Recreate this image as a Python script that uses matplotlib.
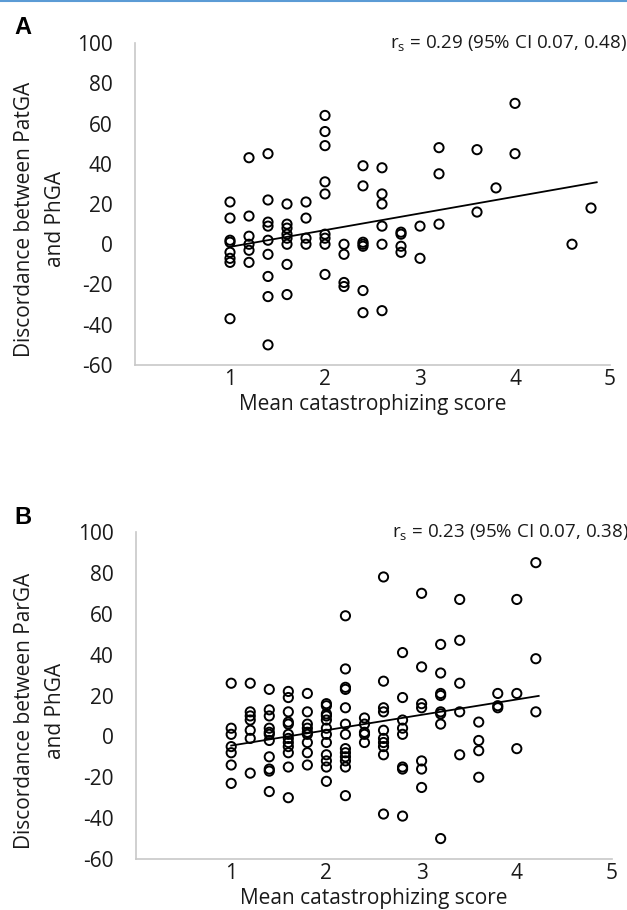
import matplotlib
matplotlib.use("Agg")
import matplotlib.pyplot as plt
from matplotlib.lines import Line2D
import numpy as np

plt.rcParams['font.family'] = ['Open Sans', 'DejaVu Sans']
plt.rcParams['mathtext.fontset'] = 'custom'
plt.rcParams['mathtext.rm'] = 'Open Sans'
plt.rcParams['mathtext.it'] = 'Open Sans'

# ---------------- Panel A data ----------------
a_x_levels = [1.0, 1.2, 1.4, 1.6, 1.8, 2.0, 2.2, 2.4, 2.6, 2.8, 3.0, 3.2, 3.6, 3.8, 4.0, 4.6, 4.8]
a_y_groups = [
    [21, 13, 2, 1, -4, -7, -9, -37],
    [43, 14, 4, 0, -3, -9],
    [45, 22, 11, 9, 2, -5, -16, -26, -50],
    [20, 10, 8, 5, 3, 0, -10, -25],
    [21, 13, 3, 0],
    [64, 56, 49, 31, 25, 5, 3, 0, -15],
    [0, -5, -19, -21],
    [39, 29, 1, 0, -1, -23, -34],
    [38, 25, 20, 9, 0, -33],
    [6, 5, -1, -4],
    [9, -7],
    [48, 35, 10],
    [47, 16],
    [28],
    [70, 45],
    [0],
    [18],
]
a_trend_x = [1.0, 4.86]
a_trend_y = [-1.3, 30.8]
a_label = "Discordance between PatGA\nand PhGA"
a_stat = "r$_\\mathrm{s}$ = 0.29 (95% CI 0.07, 0.48)"

# ---------------- Panel B data ----------------
b_x_levels = [1.0, 1.2, 1.4, 1.6, 1.8, 2.0, 2.2, 2.4, 2.6, 2.8, 3.0, 3.2, 3.4, 3.6, 3.8, 4.0, 4.2]
b_y_groups = [
    [26, 4, 1, -5, -8, -14, -23],
    [26, 12, 10, 8, 3, -1, -18],
    [23, 13, 10, 4, 2, 1, -2, -10, -16, -17, -27],
    [22, 19, 12, 7, 6, 1, -1, -3, -5, -8, -15, -30],
    [21, 12, 6, 4, 2, 1, -3, -8, -14],
    [16, 15, 11, 10, 8, 4, 1, -3, -9, -12, -15, -22],
    [59, 33, 24, 23, 14, 6, 1, -6, -8, -10, -12, -15, -29],
    [9, 6, 2, 1, -3],
    [78, 27, 14, 12, 3, -1, -3, -5, -9, -38],
    [41, 19, 8, 4, 1, -15, -16, -39],
    [70, 34, 16, 14, -12, -16, -25],
    [45, 31, 21, 20, 12, 11, 6, -50],
    [67, 47, 26, 12, -9],
    [7, -2, -7, -20],
    [21, 15, 14],
    [67, 21, -6],
    [85, 38, 12],
]
b_trend_x = [1.0, 4.23]
b_trend_y = [-4.5, 19.8]
b_label = "Discordance between ParGA\nand PhGA"
b_stat = "r$_\\mathrm{s}$ = 0.23 (95% CI 0.07, 0.38)"

x_ticks = [1, 2, 3, 4, 5]
y_ticks = [-60, -40, -20, 0, 20, 40, 60, 80, 100]
x_title = "Mean catastrophizing score"

W, H = 627, 910
fig = plt.figure(figsize=(W / 100, H / 100), dpi=100)

def px_rect(l, t, r, b):
    return [l / W, 1 - b / H, (r - l) / W, (b - t) / H]

def draw(ax, xl, yg, tx, ty, ylab, stat, letter, fig_top, ax_l, ax_w, ax_h):
    xs = np.concatenate([[x] * len(g) for x, g in zip(xl, yg)])
    ys = np.concatenate([np.array(g, float) for g in yg])
    ax.plot(tx, ty, color='black', lw=1.3, zorder=2)
    ax.scatter(xs, ys, s=44, facecolors='none', edgecolors='black', linewidths=1.4, zorder=3)
    ax.set_xlim(0, 5)
    ax.set_ylim(-60, 100)
    ax.set_xticks(x_ticks)
    ax.set_yticks(y_ticks)
    ax.set_xticklabels([str(v) for v in x_ticks])
    ax.set_yticklabels([str(v) for v in y_ticks])
    for s in ['top', 'right']:
        ax.spines[s].set_visible(False)
    for s in ['left', 'bottom']:
        ax.spines[s].set_color('#c8c8c8')
        ax.spines[s].set_linewidth(1.2)
    ax.tick_params(axis='both', length=0, labelsize=15, colors='#1a1a1a')
    ax.tick_params(axis='x', pad=3)
    ax.tick_params(axis='y', pad=16)
    ax.set_xlabel(x_title, fontsize=15, color='#1a1a1a', labelpad=3)
    ax.set_ylabel(ylab, fontsize=15, color='#1a1a1a', linespacing=1.65)
    ax.yaxis.set_label_coords(-(ax_l - 66) / ax_w, 0.5 - 15 / ax_h)
    ax.text(1.035, 1.0, stat, transform=ax.transAxes, ha='right', va='center',
            fontsize=13.5, color='#1a1a1a')
    fig.text(14 / W, 1 - fig_top / H, letter, fontsize=17, fontweight='bold',
             family='Liberation Sans', ha='left', va='center')

axA = fig.add_axes(px_rect(135, 43, 610, 365))
draw(axA, a_x_levels, a_y_groups, a_trend_x, a_trend_y, a_label, a_stat, 'A', 28, 135, 475, 322)
axB = fig.add_axes(px_rect(136, 532, 612, 859))
draw(axB, b_x_levels, b_y_groups, b_trend_x, b_trend_y, b_label, b_stat, 'B', 518, 136, 476, 327)

fig.add_artist(Line2D([0, 1], [0.999, 0.999], transform=fig.transFigure, color='#5b9bd5', lw=1.5))

fig.savefig('out.png', dpi=100)
